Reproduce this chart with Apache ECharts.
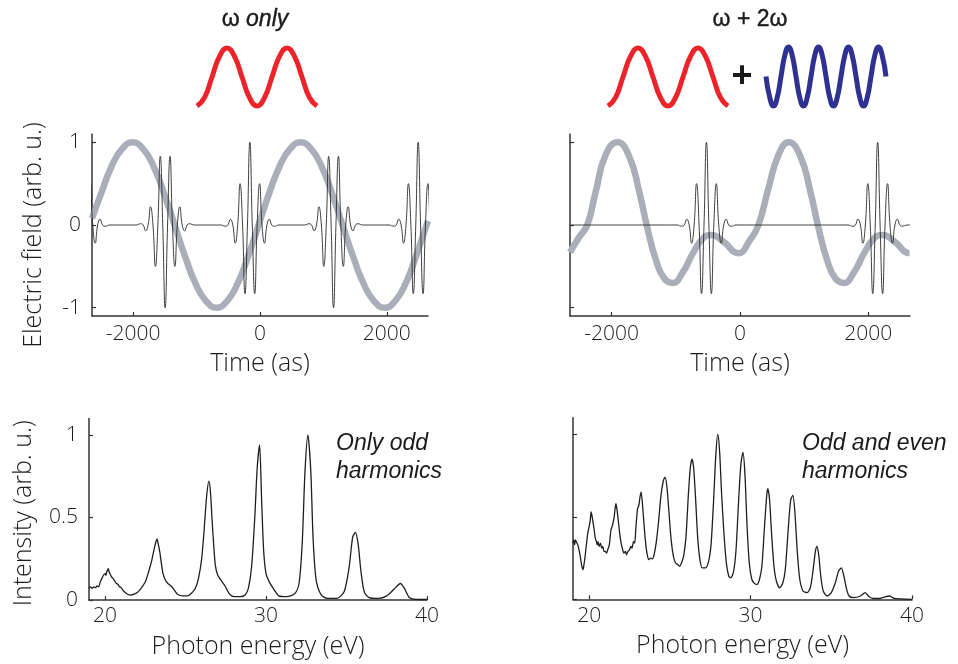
<!DOCTYPE html>
<html>
<head>
<meta charset="utf-8">
<script src="https://cdn.jsdelivr.net/npm/echarts@6/dist/echarts.min.js"></script>
<style>
  html, body { margin: 0; padding: 0; background: #ffffff; }
  #chart { width: 958px; height: 664px; }
</style>
</head>
<body>
<div id="chart"></div>
<script>
// ---- tick positions ----
const timeTicks = [-2000, 0, 2000];
const fieldTicks = [-1, 0, 1];
const energyTicks = [20, 30, 40];
const intensityTicks = [0, 0.5, 1];

// ---- driving field, ω only: [time (as), field] ----
const omegaField = [
  [-2650, 0.08], [-2507, 0.38], [-2341, 0.71], [-2176, 0.92], [-2010, 1.00],
  [-1844, 0.92], [-1679, 0.71], [-1513, 0.38], [-1347, 0.00], [-1182, -0.38],
  [-1016, -0.71], [-851, -0.92], [-685, -1.00], [-519, -0.92], [-354, -0.71],
  [-188, -0.38], [-22, 0.00], [143, 0.38], [309, 0.71], [474, 0.92],
  [640, 1.00], [806, 0.92], [971, 0.71], [1137, 0.38], [1302, 0.00],
  [1468, -0.38], [1634, -0.71], [1799, -0.92], [1965, -1.00], [2130, -0.92],
  [2296, -0.71], [2461, -0.38], [2627, 0.00], [2650, 0.05]
];

// ---- driving field, ω + 2ω: [time (as), field] ----
const twoColorField = [
  [-2650, -0.33], [-2512, -0.15], [-2381, 0.00], [-2250, 0.40], [-2093, 0.85],
  [-1910, 1.00], [-1727, 0.83], [-1570, 0.40], [-1455, 0.00], [-1308, -0.43],
  [-1177, -0.65], [-1047, -0.70], [-890, -0.57], [-733, -0.34], [-576, -0.16],
  [-445, -0.12], [-262, -0.20], [-26, -0.34], [157, -0.18], [287, 0.00],
  [445, 0.45], [602, 0.85], [758, 1.00], [941, 0.83], [1098, 0.40],
  [1213, 0.00], [1360, -0.43], [1491, -0.65], [1621, -0.70], [1778, -0.57],
  [1935, -0.34], [2092, -0.16], [2223, -0.12], [2406, -0.20], [2642, -0.34],
  [2650, -0.34]
];

// ---- one attosecond burst: [offset from burst centre (as), field] ----
const burstProfile = [
  [-460, 0], [-385, -0.015], [-346, 0], [-308, 0.07], [-269, 0], [-231, -0.22],
  [-192, 0], [-154, 0.50], [-115, 0], [-77, -0.83], [-38, 0], [0, 1.00],
  [38, 0], [77, -0.83], [115, 0], [154, 0.50], [192, 0], [231, -0.22],
  [269, 0], [308, 0.07], [346, 0], [385, -0.015], [460, 0]
];

// burst centres (as) and polarity
const omegaBursts = [[-2830, 1], [-1496, -1], [-160, 1], [1160, -1], [2495, 1]];
const twoColorBursts = [[-523, 1], [2146, 1]];

// ---- harmonic spectra: [photon energy (eV), intensity] ----
const oddSpectrum = [
  [19.0, 0.07], [19.1, 0.08], [19.2, 0.07], [19.3, 0.08], [19.4, 0.075], [19.5, 0.085],
  [19.6, 0.08], [19.7, 0.11], [19.8, 0.13], [19.9, 0.15], [20.0, 0.16], [20.05, 0.15],
  [20.1, 0.17], [20.2, 0.19], [20.25, 0.17], [20.3, 0.16], [20.4, 0.14], [20.5, 0.13],
  [20.6, 0.115], [20.7, 0.10], [20.8, 0.095], [20.9, 0.08], [21.0, 0.075], [21.1, 0.06],
  [21.2, 0.05], [21.4, 0.035], [21.6, 0.03], [21.8, 0.035], [22.0, 0.045], [22.15, 0.06],
  [22.3, 0.08], [22.5, 0.11], [22.7, 0.17], [22.9, 0.24], [23.05, 0.31], [23.15, 0.35],
  [23.22, 0.37], [23.3, 0.34], [23.4, 0.29], [23.5, 0.22], [23.6, 0.16], [23.75, 0.12],
  [23.9, 0.10], [24.1, 0.085], [24.3, 0.06], [24.5, 0.035], [24.8, 0.025], [25.1, 0.025],
  [25.35, 0.04], [25.6, 0.07], [25.8, 0.13], [26.0, 0.25], [26.15, 0.42], [26.3, 0.62],
  [26.45, 0.72], [26.55, 0.65], [26.65, 0.48], [26.75, 0.33], [26.85, 0.21], [27.0, 0.15],
  [27.2, 0.12], [27.45, 0.085], [27.7, 0.04], [28.0, 0.02], [28.4, 0.02], [28.7, 0.03],
  [28.9, 0.07], [29.1, 0.20], [29.3, 0.50], [29.45, 0.80], [29.6, 0.94], [29.72, 0.62],
  [29.85, 0.30], [30.0, 0.16], [30.2, 0.11], [30.45, 0.07], [30.8, 0.025], [31.3, 0.02],
  [31.8, 0.04], [32.05, 0.10], [32.25, 0.35], [32.42, 0.78], [32.6, 1.00], [32.78, 0.78],
  [32.92, 0.38], [33.1, 0.13], [33.4, 0.035], [33.8, 0.01], [34.4, 0.01], [34.85, 0.05],
  [35.15, 0.19], [35.38, 0.38], [35.55, 0.41], [35.72, 0.34], [35.9, 0.17], [36.1, 0.05],
  [36.4, 0.015], [37.0, 0.01], [37.5, 0.025], [37.95, 0.065], [38.35, 0.10], [38.6, 0.07],
  [38.9, 0.015], [39.3, 0.003], [40.0, 0.003]
];

const oddEvenSpectrum = [
  [19.0, 0.34], [19.05, 0.36], [19.1, 0.33], [19.15, 0.36], [19.2, 0.35], [19.3, 0.33],
  [19.35, 0.31], [19.45, 0.26], [19.55, 0.20], [19.62, 0.18], [19.68, 0.21], [19.75, 0.26],
  [19.85, 0.35], [19.93, 0.41], [20.0, 0.44], [20.07, 0.48], [20.12, 0.53], [20.17, 0.51],
  [20.22, 0.48], [20.3, 0.43], [20.38, 0.37], [20.45, 0.35], [20.5, 0.33], [20.55, 0.35],
  [20.62, 0.32], [20.7, 0.34], [20.78, 0.31], [20.85, 0.32], [20.92, 0.29], [21.0, 0.29],
  [21.08, 0.28], [21.15, 0.30], [21.25, 0.33], [21.35, 0.42], [21.45, 0.45], [21.55, 0.50],
  [21.62, 0.56], [21.66, 0.58], [21.7, 0.56], [21.78, 0.50], [21.88, 0.41], [21.98, 0.34],
  [22.08, 0.30], [22.15, 0.28], [22.25, 0.29], [22.32, 0.27], [22.4, 0.29], [22.5, 0.30],
  [22.58, 0.32], [22.65, 0.31], [22.75, 0.35], [22.82, 0.34], [22.9, 0.44], [23.0, 0.55],
  [23.08, 0.57], [23.15, 0.62], [23.22, 0.65], [23.3, 0.58], [23.38, 0.48], [23.48, 0.36],
  [23.58, 0.28], [23.7, 0.24], [23.8, 0.25], [23.9, 0.245], [24.0, 0.26], [24.15, 0.34],
  [24.3, 0.47], [24.45, 0.63], [24.6, 0.72], [24.7, 0.74], [24.82, 0.68], [24.95, 0.52],
  [25.08, 0.36], [25.22, 0.26], [25.35, 0.22], [25.5, 0.21], [25.6, 0.20], [25.72, 0.22],
  [25.85, 0.26], [26.0, 0.38], [26.15, 0.64], [26.27, 0.80], [26.37, 0.85], [26.47, 0.80],
  [26.6, 0.60], [26.72, 0.38], [26.85, 0.25], [27.0, 0.19], [27.2, 0.19], [27.4, 0.23],
  [27.55, 0.33], [27.7, 0.58], [27.85, 0.88], [27.97, 1.00], [28.08, 0.90], [28.2, 0.65],
  [28.35, 0.40], [28.5, 0.22], [28.65, 0.14], [28.78, 0.13], [28.95, 0.17], [29.1, 0.30],
  [29.25, 0.58], [29.4, 0.82], [29.53, 0.89], [29.65, 0.76], [29.78, 0.45], [29.92, 0.22],
  [30.08, 0.12], [30.25, 0.095], [30.4, 0.09], [30.55, 0.12], [30.7, 0.20], [30.85, 0.42],
  [31.0, 0.63], [31.07, 0.67], [31.18, 0.60], [31.3, 0.40], [31.45, 0.20], [31.6, 0.11],
  [31.8, 0.07], [32.0, 0.10], [32.15, 0.18], [32.3, 0.38], [32.48, 0.60], [32.62, 0.63],
  [32.75, 0.52], [32.9, 0.28], [33.05, 0.12], [33.25, 0.05], [33.5, 0.04], [33.7, 0.07],
  [33.85, 0.16], [34.0, 0.28], [34.1, 0.32], [34.22, 0.27], [34.35, 0.14], [34.5, 0.05],
  [34.75, 0.02], [35.0, 0.04], [35.25, 0.10], [35.45, 0.17], [35.62, 0.19], [35.78, 0.14],
  [35.95, 0.06], [36.1, 0.02], [36.4, 0.01], [36.8, 0.02], [37.1, 0.04], [37.35, 0.015],
  [37.6, 0.005], [38.0, 0.005], [38.35, 0.015], [38.6, 0.02], [38.9, 0.005], [40.0, 0.0]
];

// ---- pictograms above the panels (eighth-period samples) ----
const redWave = [-1, -0.71, 0, 0.71, 1, 0.71, 0, -0.71, -1, -0.71, 0, 0.71, 1, 0.71, 0, -0.71, -1];
const blueWave = [
  0, -0.71, -1, -0.71, 0, 0.71, 1, 0.71,
  0, -0.71, -1, -0.71, 0, 0.71, 1, 0.71,
  0, -0.71, -1, -0.71, 0, 0.71, 1, 0.71,
  0, -0.71, -1, -0.71, 0, 0.71, 1, 0.71, 0
];

// place the burst profile at each centre with its polarity
function burstTrace(bursts) {
  const pts = [];
  bursts.forEach(([centre, sign]) => {
    burstProfile.forEach(([dt, v]) => pts.push([centre + dt, sign * v]));
  });
  return pts;
}
const omegaTrace = burstTrace(omegaBursts);
const twoColorTrace = [[-2650, 0]].concat(burstTrace(twoColorBursts), [[2650, 0]]);

const AXIS_COLOR = '#333333';
const TEXT_COLOR = '#1c1c1c';
const AXIS_FONT = '"Open Sans", "DejaVu Sans", sans-serif';
const NOTE_FONT = '"Liberation Sans", Arial, sans-serif';
const GRAY = '#a9aeb8';

function tickLabels(ticks, margin) {
  return { show: true, customValues: ticks, color: TEXT_COLOR, fontSize: 21,
           fontWeight: 300, fontFamily: AXIS_FONT, margin,
           formatter: (v) => String(v) };
}

function valueAxis(gridIndex, min, max, ticks, extra) {
  return Object.assign({
    type: 'value', gridIndex, min, max, scale: false,
    axisLine: { show: true, onZero: false, lineStyle: { color: AXIS_COLOR, width: 1.5 } },
    axisTick: { show: true, inside: true, length: 4, customValues: ticks,
                lineStyle: { color: AXIS_COLOR, width: 1.2 } },
    axisLabel: tickLabels(ticks, 8),
    splitLine: { show: false },
    nameTextStyle: { color: TEXT_COLOR, fontSize: 25, fontWeight: 300, fontFamily: AXIS_FONT }
  }, extra || {});
}
function hiddenAxis(gridIndex, type, extra) {
  return Object.assign({ type, gridIndex, show: false }, extra || {});
}

const option = {
  animation: false,
  backgroundColor: '#ffffff',
  grid: [
    { left: 92, top: 134, width: 336, height: 182 },
    { left: 570, top: 134, width: 340, height: 182 },
    { left: 89, top: 418.5, width: 338, height: 181.5 },
    { left: 573, top: 417.8, width: 339, height: 181.5 },
    { left: 197, top: 48, width: 120, height: 58 },
    { left: 608, top: 48, width: 120, height: 58 },
    { left: 766, top: 47, width: 120, height: 59 }
  ],
  xAxis: [
    valueAxis(0, -2650, 2650, timeTicks, {
      name: 'Time (as)', nameLocation: 'middle', nameGap: 35, axisLabel: tickLabels(timeTicks, 8) }),
    valueAxis(1, -2650, 2650, timeTicks, {
      name: 'Time (as)', nameLocation: 'middle', nameGap: 35, axisLabel: tickLabels(timeTicks, 8) }),
    valueAxis(2, 19, 40, energyTicks, {
      name: 'Photon energy (eV)', nameLocation: 'middle', nameGap: 34, axisLabel: tickLabels(energyTicks, 6) }),
    valueAxis(3, 19, 40, energyTicks, {
      name: 'Photon energy (eV)', nameLocation: 'middle', nameGap: 34, axisLabel: tickLabels(energyTicks, 6) }),
    hiddenAxis(4, 'category', { boundaryGap: false, data: redWave.map((_, i) => i) }),
    hiddenAxis(5, 'category', { boundaryGap: false, data: redWave.map((_, i) => i) }),
    hiddenAxis(6, 'category', { boundaryGap: false, data: blueWave.map((_, i) => i) })
  ],
  yAxis: [
    valueAxis(0, -1.1, 1.1, fieldTicks, {
      name: 'Electric field (arb. u.)', nameLocation: 'middle', nameGap: 46,
      nameTextStyle: { color: TEXT_COLOR, fontSize: 25, fontWeight: 300, fontFamily: AXIS_FONT,
                       padding: [0, 20, 0, 0] },
      axisLabel: tickLabels(fieldTicks, 11) }),
    valueAxis(1, -1.1, 1.1, fieldTicks, { axisLabel: { show: false } }),
    valueAxis(2, 0, 1.1, intensityTicks, {
      name: 'Intensity (arb. u.)', nameLocation: 'middle', nameGap: 53,
      nameTextStyle: { color: TEXT_COLOR, fontSize: 25, fontWeight: 300, fontFamily: AXIS_FONT,
                       padding: [0, 8, 0, 0] },
      axisLabel: tickLabels(intensityTicks, 11) }),
    valueAxis(3, 0, 1.1, intensityTicks, { axisLabel: { show: false } }),
    hiddenAxis(4, 'value', { min: -1, max: 1 }),
    hiddenAxis(5, 'value', { min: -1, max: 1 }),
    hiddenAxis(6, 'value', { min: -1, max: 1 })
  ],
  series: [
    { type: 'line', xAxisIndex: 0, yAxisIndex: 0, data: omegaField, smooth: 0.5,
      symbol: 'none', z: 2, lineStyle: { color: GRAY, width: 6.5 } },
    { type: 'line', xAxisIndex: 0, yAxisIndex: 0, data: omegaTrace, smooth: 0.5,
      symbol: 'none', z: 3, lineStyle: { color: '#2a2a2a', width: 0.9 } },
    { type: 'line', xAxisIndex: 1, yAxisIndex: 1, data: twoColorField, smooth: 0.5,
      symbol: 'none', z: 2, lineStyle: { color: GRAY, width: 6.5 } },
    { type: 'line', xAxisIndex: 1, yAxisIndex: 1, data: twoColorTrace, smooth: 0.5,
      symbol: 'none', z: 3, lineStyle: { color: '#2a2a2a', width: 0.9 } },
    { type: 'line', xAxisIndex: 2, yAxisIndex: 2, data: oddSpectrum, smooth: 0.25,
      symbol: 'none', lineStyle: { color: '#1e1e1e', width: 1.3 } },
    { type: 'line', xAxisIndex: 3, yAxisIndex: 3, data: oddEvenSpectrum, smooth: 0.25,
      symbol: 'none', lineStyle: { color: '#1e1e1e', width: 1.3 } },
    { type: 'line', xAxisIndex: 4, yAxisIndex: 4, data: redWave, smooth: 0.5, clip: false,
      symbol: 'none', lineStyle: { color: '#ec2329', width: 5 } },
    { type: 'line', xAxisIndex: 5, yAxisIndex: 5, data: redWave, smooth: 0.5, clip: false,
      symbol: 'none', lineStyle: { color: '#ec2329', width: 5 } },
    { type: 'line', xAxisIndex: 6, yAxisIndex: 6, data: blueWave, smooth: 0.5, clip: false,
      symbol: 'none', lineStyle: { color: '#2e3192', width: 5 } }
  ],
  graphic: [
    { type: 'text', x: 255, y: 20, style: {
        text: '{w|ω }{o|only}', align: 'center', verticalAlign: 'middle',
        rich: {
          w: { fontSize: 23, fontFamily: NOTE_FONT, fill: '#1a1a1a',
               stroke: '#1a1a1a', lineWidth: 0.4 },
          o: { fontSize: 23, fontFamily: NOTE_FONT, fontStyle: 'italic', fill: '#1a1a1a',
               stroke: '#1a1a1a', lineWidth: 0.4 }
        } } },
    { type: 'text', x: 750, y: 20, style: {
        text: 'ω + 2ω', align: 'center', verticalAlign: 'middle',
        font: '23px "Liberation Sans", Arial, sans-serif', fill: '#1a1a1a',
        stroke: '#1a1a1a', lineWidth: 0.4 } },
    { type: 'text', x: 742, y: 77, style: {
        text: '+', align: 'center', verticalAlign: 'middle',
        font: 'bold 36px "Liberation Sans", Arial, sans-serif', fill: '#1a1a1a' } },
    { type: 'text', x: 336, y: 430, style: {
        text: 'Only odd\nharmonics', align: 'left', verticalAlign: 'top', lineHeight: 28,
        font: 'italic 23px "Liberation Sans", Arial, sans-serif', fill: '#1a1a1a' } },
    { type: 'text', x: 802, y: 430, style: {
        text: 'Odd and even\nharmonics', align: 'left', verticalAlign: 'top', lineHeight: 28,
        font: 'italic 23px "Liberation Sans", Arial, sans-serif', fill: '#1a1a1a' } }
  ]
};

const chart = echarts.init(document.getElementById('chart'), null, { renderer: 'canvas' });
chart.setOption(option);
</script>
</body>
</html>
